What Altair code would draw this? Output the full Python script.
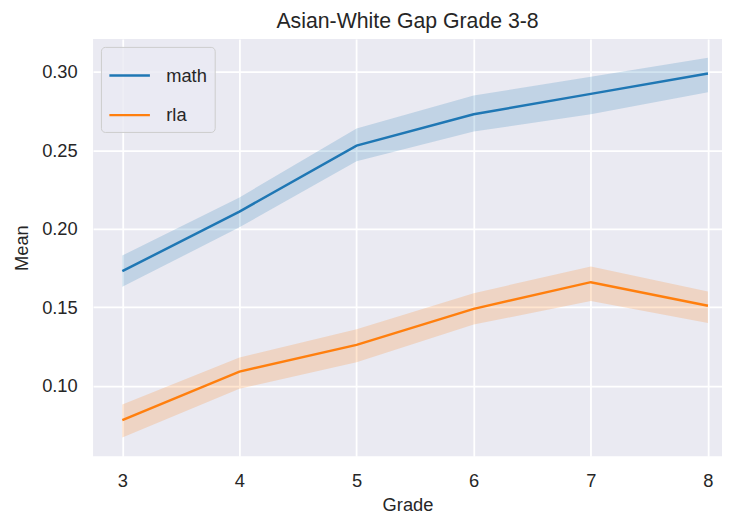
import altair as alt
import pandas as pd

grades = [3, 4, 5, 6, 7, 8]
subjects = ["math", "rla"]
math_mean = [0.173, 0.211, 0.253, 0.273, 0.286, 0.299]
math_lo = [0.163, 0.201, 0.243, 0.262, 0.273, 0.287]
math_hi = [0.183, 0.220, 0.264, 0.285, 0.297, 0.309]
rla_mean = [0.078, 0.109, 0.126, 0.149, 0.166, 0.151]
rla_lo = [0.067, 0.098, 0.115, 0.139, 0.154, 0.140]
rla_hi = [0.088, 0.118, 0.136, 0.159, 0.176, 0.160]
colors = ["#1f77b4", "#ff7f0e"]
y_ticks = [0.10, 0.15, 0.20, 0.25, 0.30]

rows = []
for subj, m, lo, hi in [("math", math_mean, math_lo, math_hi), ("rla", rla_mean, rla_lo, rla_hi)]:
    for g, a, b, c in zip(grades, m, lo, hi):
        rows.append({"Grade": g, "subject": subj, "band": subj, "Mean": a, "lo": b, "hi": c})
df = pd.DataFrame(rows)

FONT = "Liberation Sans"
TXT = "#262626"

xscale = alt.Scale(domain=[2.75, 8.12], nice=False, zero=False)
yscale = alt.Scale(domain=[0.055, 0.321], nice=False, zero=False)

x = alt.X("Grade:Q", scale=xscale,
          axis=alt.Axis(values=grades, format="d", title="Grade", labelPadding=16,
                        titlePadding=5))
y = alt.Y("Mean:Q", scale=yscale,
          axis=alt.Axis(values=y_ticks, format=".2f", title="Mean", labelPadding=16,
                        titlePadding=10))

base = alt.Chart(df)

band = base.mark_area(opacity=0.2).encode(
    x=x,
    y=alt.Y("lo:Q", scale=yscale),
    y2="hi:Q",
    fill=alt.Fill("band:N", scale=alt.Scale(domain=subjects, range=colors), legend=None),
)

line = base.mark_line(strokeWidth=2.5).encode(
    x=x,
    y=y,
    color=alt.Color("subject:N", scale=alt.Scale(domain=subjects, range=colors),
                    legend=alt.Legend(title=None, orient="top-left", offset=8,
                                      symbolType="stroke", symbolSize=1681,
                                      symbolStrokeWidth=2.5, labelOffset=15,
                                      padding=7, rowPadding=8,
                                      fillColor="rgba(234,234,242,0.8)",
                                      strokeColor="#cccccc", cornerRadius=4,
                                      labelFontSize=18.5, labelFont=FONT,
                                      labelColor=TXT)),
)

chart = alt.layer(band, line).resolve_scale(color="independent").properties(
    width=636,
    height=422,
    background="white",
    autosize=alt.AutoSizeParams(type="none"),
    padding={"left": 86, "top": 28.5, "right": 0, "bottom": 56},
    title=alt.Title("Asian-White Gap Grade 3-8", fontSize=21.5, font=FONT, color=TXT,
                    fontWeight="normal", offset=7),
).configure_view(
    fill="#EAEAF2", stroke=None
).configure_axis(
    domain=False, ticks=False, tickSize=0,
    grid=True, gridColor="white", gridWidth=1.8,
    labelFont=FONT, labelFontSize=18.5, labelColor=TXT,
    titleFont=FONT, titleFontSize=18.5, titleColor=TXT, titleFontWeight="normal",
)

chart.save("out.html", embed_options={"renderer": "svg", "actions": False})
